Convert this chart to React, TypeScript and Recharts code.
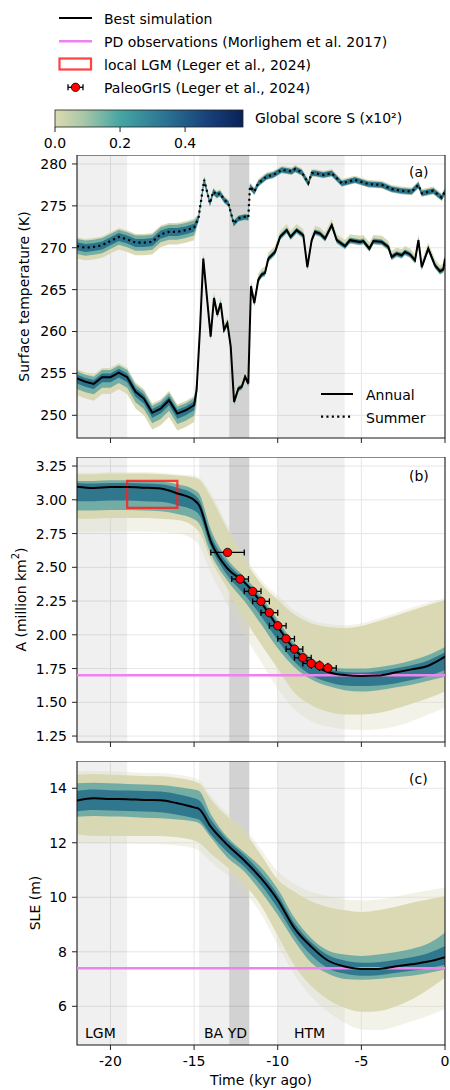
import React from 'react';
import {
  ComposedChart, Line, Area, XAxis, YAxis, CartesianGrid,
  ReferenceArea, ReferenceLine, Scatter,
} from 'recharts';

const FONT = '"DejaVu Sans", Verdana, sans-serif';

// ---------- shared axis / periods ----------
const X_DOMAIN: [number, number] = [-22, 0];
const X_TICKS = [-20, -15, -10, -5, 0];

const PERIOD_NAMES = ['LGM', 'BA', 'YD', 'HTM'];
const PERIOD_START = [-22, -14.7, -12.9, -10];
const PERIOD_END = [-19, -12.9, -11.7, -6];
const PERIOD_SHADE = [0.06, 0.06, 0.175, 0.06];

// ---------- panel (a) surface temperature ----------
const TEMP_DOMAIN: [number, number] = [247.29, 281.07];
const TEMP_TICKS = [250, 255, 260, 265, 270, 275, 280];

const ANNUAL_T = [-22, -21.5, -21, -20.5, -20, -19.5, -19, -18.5, -18, -17.5, -17, -16.5, -16, -15.5, -15, -14.85,
  -14.64, -14.45, -14.01, -13.81, -13.61, -13.41, -13.21, -13.01, -12.81, -12.61, -12.35, -12.15, -11.95, -11.76,
  -11.6, -11.4, -11.16, -10.96, -10.76, -10.56, -10.16, -9.86, -9.46, -9.23, -8.87, -8.47, -8.23, -7.97, -7.77,
  -7.47, -7.17, -6.77, -6.47, -5.98, -5.68, -5.08, -4.88, -4.52, -4.28, -3.78, -3.39, -3.19, -2.89, -2.59, -2.39,
  -2.09, -1.79, -1.59, -1.39, -1.0, -0.6, -0.3, -0.1, 0];
const ANNUAL_K = [254.4, 254.0, 253.75, 254.55, 254.55, 255.1, 254.55, 252.8, 252.0, 250.3, 250.8, 251.8, 250.2, 250.6, 251.2, 253.0,
  260.6, 268.7, 259.4, 264.0, 262.0, 263.4, 260.2, 261.0, 258.2, 251.6, 253.2, 253.4, 254.6, 253.8,
  265.4, 263.4, 266.2, 266.8, 267.0, 268.7, 269.5, 271.3, 272.1, 271.3, 272.1, 271.5, 267.7, 270.9, 271.9,
  271.7, 271.1, 272.7, 270.9, 270.2, 270.9, 270.7, 270.8, 269.9, 270.8, 270.7, 270.1, 268.9, 269.3, 269.1, 269.5,
  269.2, 268.5, 270.9, 267.7, 269.9, 267.9, 267.2, 267.4, 268.7];

const SUMMER_T = [-22, -21.5, -21, -20.5, -20, -19.5, -19, -18.5, -18, -17.5, -17, -16.5, -16, -15.5, -15, -14.74,
  -14.4, -14.05, -13.85, -13.65, -13.45, -13.19, -12.95, -12.63, -12.35, -11.95, -11.76, -11.66, -11.4, -11.16,
  -10.66, -10.26, -9.76, -9.16, -8.96, -8.56, -8.17, -7.97, -7.77, -7.27, -6.77, -6.17, -5.38, -4.58, -3.78,
  -3.19, -2.59, -1.99, -1.59, -1.39, -0.7, -0.2, 0];
const SUMMER_K = [270.2, 270.0, 270.1, 270.3, 270.8, 271.3, 271.0, 270.6, 270.6, 270.7, 271.6, 271.9, 271.9, 272.1, 272.4, 273.5,
  278.1, 275.3, 276.7, 276.3, 276.5, 275.7, 275.3, 272.9, 273.5, 273.7, 273.6, 277.3, 276.7, 277.7,
  278.5, 278.7, 279.3, 279.1, 279.4, 279.0, 277.7, 278.9, 278.9, 278.7, 278.9, 277.7, 278.1, 277.6, 277.5,
  277.0, 276.8, 276.7, 277.5, 276.5, 276.8, 276.0, 276.7];

// ensemble spread around best run: [tanDown, tealDown, coreDown, coreUp, tealUp, tanUp]
const TRANSITION_T = -14.8;
const ANNUAL_SPREAD_GLACIAL = [2.0, 1.25, 0.6, 0.45, 0.85, 1.1];
const ANNUAL_SPREAD_INTER = [0.42, 0.36, 0.26, 0.22, 0.32, 0.72];
const SUMMER_SPREAD_GLACIAL = [1.5, 0.95, 0.5, 0.45, 0.85, 1.05];
const SUMMER_SPREAD_INTER = [0.42, 0.38, 0.3, 0.28, 0.34, 0.5];

// ---------- panels (b) and (c) ----------
const TIME_BC = [-22, -21, -20, -19, -18, -17, -16, -15, -14.7, -14, -13, -12, -11, -10, -9, -8, -7, -6, -5, -4, -3, -2, -1, 0];

const AREA_DOMAIN: [number, number] = [1.206, 3.317];
const AREA_TICKS = [1.25, 1.5, 1.75, 2.0, 2.25, 2.5, 2.75, 3.0, 3.25];
const AREA_BEST = [3.097, 3.088, 3.095, 3.095, 3.09, 3.083, 3.047, 2.998, 2.96, 2.69, 2.49, 2.39, 2.24, 2.06, 1.89, 1.785, 1.725, 1.702, 1.695, 1.698, 1.72, 1.744, 1.771, 1.838];
const AREA_FAINT_HI = [3.2, 3.2, 3.205, 3.205, 3.205, 3.2, 3.19, 3.18, 3.165, 3.05, 2.81, 2.59, 2.41, 2.29, 2.18, 2.11, 2.08, 2.07, 2.085, 2.12, 2.16, 2.2, 2.24, 2.27];
const AREA_TAN_HI = [3.19, 3.19, 3.195, 3.195, 3.195, 3.19, 3.18, 3.165, 3.15, 3.02, 2.78, 2.56, 2.38, 2.26, 2.15, 2.085, 2.058, 2.05, 2.065, 2.1, 2.14, 2.18, 2.22, 2.257];
const AREA_TAN_LO = [2.86, 2.86, 2.865, 2.865, 2.865, 2.86, 2.85, 2.8, 2.76, 2.56, 2.34, 2.12, 1.93, 1.75, 1.57, 1.48, 1.43, 1.41, 1.41, 1.42, 1.45, 1.49, 1.53, 1.58];
const AREA_FAINT_LO = [2.76, 2.76, 2.765, 2.765, 2.765, 2.76, 2.75, 2.7, 2.66, 2.46, 2.22, 2.0, 1.8, 1.6, 1.45, 1.36, 1.32, 1.3, 1.295, 1.3, 1.32, 1.36, 1.41, 1.46];
const AREA_TEAL_HI = [3.14, 3.14, 3.145, 3.145, 3.14, 3.135, 3.115, 3.075, 3.045, 2.78, 2.56, 2.43, 2.29, 2.11, 1.94, 1.83, 1.77, 1.75, 1.75, 1.76, 1.78, 1.81, 1.85, 1.91];
const AREA_TEAL_LO = [2.92, 2.92, 2.925, 2.925, 2.92, 2.915, 2.895, 2.855, 2.825, 2.6, 2.4, 2.25, 2.08, 1.9, 1.76, 1.67, 1.62, 1.59, 1.58, 1.59, 1.61, 1.63, 1.66, 1.69];
const AREA_CORE_HI = [3.125, 3.12, 3.125, 3.125, 3.12, 3.115, 3.09, 3.04, 3.0, 2.74, 2.53, 2.41, 2.265, 2.085, 1.915, 1.805, 1.745, 1.725, 1.72, 1.73, 1.75, 1.775, 1.81, 1.87];
const AREA_CORE_LO = [2.99, 2.99, 2.995, 2.995, 2.99, 2.985, 2.96, 2.92, 2.89, 2.65, 2.44, 2.3, 2.14, 1.96, 1.8, 1.7, 1.65, 1.625, 1.62, 1.625, 1.64, 1.665, 1.695, 1.74];
const PD_AREA = 1.70;

const LGM_BOX_T = [-19, -16];
const LGM_BOX_A = [2.94, 3.14];

const PALEO_T = [-13.0, -12.25, -11.5, -11.0, -10.5, -10.0, -9.5, -9.0, -8.5, -8.0, -7.5, -7.0];
const PALEO_A = [2.61, 2.413, 2.322, 2.248, 2.164, 2.067, 1.971, 1.894, 1.83, 1.788, 1.771, 1.754];
const PALEO_ERR = [1.0, 0.5, 0.5, 0.5, 0.5, 0.5, 0.5, 0.5, 0.5, 0.5, 0.5, 0.5];

const SLE_DOMAIN: [number, number] = [4.58, 15.0];
const SLE_TICKS = [6, 8, 10, 12, 14];
const SLE_BEST = [13.55, 13.63, 13.61, 13.6, 13.57, 13.56, 13.45, 13.3, 13.24, 12.59, 11.92, 11.35, 10.7, 9.9, 8.86, 8.19, 7.68, 7.46, 7.37, 7.37, 7.46, 7.54, 7.64, 7.8];
const SLE_FAINT_HI = [14.62, 14.63, 14.62, 14.6, 14.57, 14.56, 14.5, 14.38, 14.3, 13.72, 13.08, 12.55, 11.75, 10.95, 10.5, 10.2, 10.05, 9.92, 9.88, 9.92, 10.02, 10.15, 10.25, 10.35];
const SLE_TAN_HI = [14.5, 14.52, 14.5, 14.48, 14.45, 14.44, 14.38, 14.26, 14.18, 13.6, 12.95, 12.4, 11.55, 10.65, 10.2, 9.85, 9.64, 9.52, 9.46, 9.52, 9.64, 9.8, 9.92, 10.05];
const SLE_TAN_LO = [12.3, 12.25, 12.25, 12.25, 12.25, 12.25, 12.2, 12.08, 12.0, 11.6, 11.1, 10.5, 9.7, 8.6, 7.5, 6.75, 6.25, 5.95, 5.8, 5.82, 5.98, 6.25, 6.62, 7.05];
const SLE_FAINT_LO = [12.0, 11.98, 11.98, 11.97, 11.96, 11.95, 11.9, 11.8, 11.72, 11.3, 10.8, 10.2, 9.4, 8.25, 7.15, 6.35, 5.8, 5.4, 5.15, 5.12, 5.25, 5.45, 5.65, 5.9];
const SLE_TEAL_HI = [14.18, 14.2, 14.18, 14.16, 14.14, 14.12, 14.05, 13.95, 13.9, 13.05, 12.2, 11.65, 11.1, 10.3, 9.25, 8.5, 8.05, 7.9, 7.85, 7.9, 7.98, 8.1, 8.3, 8.7];
const SLE_TEAL_LO = [12.95, 12.98, 12.96, 12.95, 12.92, 12.9, 12.85, 12.78, 12.72, 12.2, 11.45, 10.95, 10.2, 9.35, 8.4, 7.6, 7.2, 7.0, 6.97, 7.0, 7.07, 7.12, 7.22, 7.35];
const SLE_CORE_HI = [13.9, 13.95, 13.93, 13.92, 13.9, 13.88, 13.78, 13.63, 13.56, 12.85, 12.1, 11.55, 10.9, 10.1, 9.05, 8.35, 7.88, 7.68, 7.6, 7.62, 7.7, 7.8, 7.95, 8.2];
const SLE_CORE_LO = [13.15, 13.2, 13.18, 13.17, 13.15, 13.12, 13.03, 12.9, 12.84, 12.3, 11.65, 11.12, 10.45, 9.6, 8.62, 7.88, 7.4, 7.2, 7.12, 7.14, 7.22, 7.3, 7.4, 7.52];
const PD_SLE = 7.4;

const CBAR_TICKS = [0.0, 0.2, 0.4];
const CBAR_MAX = 0.578;

// ---------- colours ----------
const C_FAINT = '#dddbbd';
const C_TAN = '#d8d7b1';
const C_TEAL = '#2f8f99';
const C_CORE = '#1f6a88';
const C_PD = 'violet';
const C_FRAME = '#222';

// ---------- data building ----------
function buildTemp(ts: number[], vs: number[], glacial: number[], inter: number[]) {
  return ts.map((t, i) => {
    const v = vs[i];
    const s = t < TRANSITION_T ? glacial : inter;
    return { t, v, tan: [v - s[0], v + s[5]], teal: [v - s[1], v + s[4]], core: [v - s[2], v + s[3]] };
  });
}
const annualData = buildTemp(ANNUAL_T, ANNUAL_K, ANNUAL_SPREAD_GLACIAL, ANNUAL_SPREAD_INTER);
const summerData = buildTemp(SUMMER_T, SUMMER_K, SUMMER_SPREAD_GLACIAL, SUMMER_SPREAD_INTER);

const areaData = TIME_BC.map((t, i) => ({
  t, v: AREA_BEST[i],
  faint: [AREA_FAINT_LO[i], AREA_FAINT_HI[i]],
  tan: [AREA_TAN_LO[i], AREA_TAN_HI[i]],
  teal: [AREA_TEAL_LO[i], AREA_TEAL_HI[i]],
  core: [AREA_CORE_LO[i], AREA_CORE_HI[i]],
}));
const sleData = TIME_BC.map((t, i) => ({
  t, v: SLE_BEST[i],
  faint: [SLE_FAINT_LO[i], SLE_FAINT_HI[i]],
  tan: [SLE_TAN_LO[i], SLE_TAN_HI[i]],
  teal: [SLE_TEAL_LO[i], SLE_TEAL_HI[i]],
  core: [SLE_CORE_LO[i], SLE_CORE_HI[i]],
}));
const paleoData = PALEO_T.map((t, i) => ({ t, v: PALEO_A[i] }));
const paleoErrData = PALEO_T.map((t, i) => [
  { t: t - PALEO_ERR[i], v: PALEO_A[i] },
  { t: t + PALEO_ERR[i], v: PALEO_A[i] },
]);

// ---------- helpers ----------
const tickStyle = { fill: '#000', fontSize: 14, fontFamily: FONT };
const MARGIN = { top: 0, right: 5, bottom: 0, left: 0 };

function periods() {
  return PERIOD_NAMES.map((n, i) => (
    <ReferenceArea key={'p' + n} x1={PERIOD_START[i]} x2={PERIOD_END[i]}
      fill="#000" fillOpacity={PERIOD_SHADE[i]} stroke="none" ifOverflow="hidden" />
  ));
}
function frame(dom: [number, number]) {
  return <ReferenceArea key="frame" x1={X_DOMAIN[0]} x2={X_DOMAIN[1]} y1={dom[0]} y2={dom[1]}
    fill="none" stroke={C_FRAME} strokeWidth={1.1} ifOverflow="visible" />;
}
function band(key: string, fill: string, op: number, type: 'linear' | 'monotone', data?: any[], tag = '') {
  return <Area key={key + tag} data={data} dataKey={key} type={type} stroke="none"
    fill={fill} fillOpacity={op} dot={false} activeDot={false} isAnimationActive={false} />;
}
function xAxis(showLabels: boolean, height: number) {
  return <XAxis dataKey="t" type="number" domain={X_DOMAIN} ticks={X_TICKS} allowDataOverflow interval={0}
    axisLine={false} tickLine={{ stroke: C_FRAME }} tickSize={5} tickMargin={6.5} height={height}
    tick={tickStyle} tickFormatter={(v: number) => (showLabels ? String(v) : '')} />;
}
function yAxis(dom: [number, number], ticks: number[], fmt: (v: number) => string) {
  return <YAxis type="number" domain={dom} ticks={ticks} allowDataOverflow interval={0} width={77}
    axisLine={false} tickLine={{ stroke: C_FRAME }} tickSize={5} tickMargin={5}
    tick={tickStyle} tickFormatter={fmt} />;
}

const RedDot = (props: any) => {
  const { cx, cy } = props;
  if (cx == null || cy == null) return null;
  return <circle cx={cx} cy={cy} r={4.2} fill="#ff0000" stroke="#000" strokeWidth={0.8} />;
};
const CapDot = (props: any) => {
  const { cx, cy, index } = props;
  if (cx == null || cy == null) return <g key={'c' + index} />;
  return <line key={'c' + index} x1={cx} x2={cx} y1={cy - 3} y2={cy + 3} stroke="#000" strokeWidth={1.3} />;
};

export default function App() {
  const txt = { fontFamily: FONT, fontSize: 14, fill: '#000' } as const;
  return (
    <div style={{ position: 'absolute', left: 0, top: 0, width: 450, height: 1090, background: '#fff', fontFamily: FONT }}>
      {/* panel (a) */}
      <div style={{ position: 'absolute', left: 0, top: 155 }}>
        <ComposedChart width={450} height={293} margin={MARGIN}>
          <CartesianGrid stroke="#e6e6e6" strokeWidth={1} />
          {periods()}
          {xAxis(false, 10)}
          {yAxis(TEMP_DOMAIN, TEMP_TICKS, (v) => String(v))}
          {band('tan', C_TAN, 0.95, 'linear', annualData, 'a')}
          {band('teal', C_TEAL, 0.6, 'linear', annualData, 'a')}
          {band('core', C_CORE, 0.85, 'linear', annualData, 'a')}
          {band('tan', C_TAN, 0.95, 'linear', summerData, 's')}
          {band('teal', C_TEAL, 0.6, 'linear', summerData, 's')}
          {band('core', C_CORE, 0.85, 'linear', summerData, 's')}
          <Line data={annualData} dataKey="v" type="linear" stroke="#000" strokeWidth={2}
            dot={false} activeDot={false} isAnimationActive={false} />
          <Line data={summerData} dataKey="v" type="linear" stroke="#000" strokeWidth={2.2}
            strokeDasharray="2.1 3.3" dot={false} activeDot={false} isAnimationActive={false} />
          {frame(TEMP_DOMAIN)}
        </ComposedChart>
      </div>

      {/* panel (b) */}
      <div style={{ position: 'absolute', left: 0, top: 457 }}>
        <ComposedChart width={450} height={295} margin={MARGIN} data={areaData}>
          <CartesianGrid stroke="#e6e6e6" strokeWidth={1} />
          {periods()}
          {xAxis(false, 10)}
          {yAxis(AREA_DOMAIN, AREA_TICKS, (v) => v.toFixed(2))}
          {band('faint', C_FAINT, 0.35, 'monotone')}
          {band('tan', C_TAN, 0.95, 'monotone')}
          {band('teal', C_TEAL, 0.6, 'monotone')}
          {band('core', C_CORE, 0.8, 'monotone')}
          <ReferenceLine y={PD_AREA} stroke={C_PD} strokeWidth={2.5} ifOverflow="hidden" />
          <Line dataKey="v" type="monotone" stroke="#000" strokeWidth={2}
            dot={false} activeDot={false} isAnimationActive={false} />
          <ReferenceArea x1={LGM_BOX_T[0]} x2={LGM_BOX_T[1]} y1={LGM_BOX_A[0]} y2={LGM_BOX_A[1]}
            fill="none" stroke="#ff2020" strokeOpacity={0.85} strokeWidth={2.2} ifOverflow="visible" />
          {paleoErrData.map((seg, i) => (
            <Line key={'err' + i} data={seg} dataKey="v" type="linear" stroke="#000" strokeWidth={1.3}
              dot={CapDot} activeDot={false} isAnimationActive={false} />
          ))}
          <Scatter data={paleoData} dataKey="v" shape={RedDot} isAnimationActive={false} />
          {frame(AREA_DOMAIN)}
        </ComposedChart>
      </div>

      {/* panel (c) */}
      <div style={{ position: 'absolute', left: 0, top: 761 }}>
        <ComposedChart width={450} height={329} margin={MARGIN} data={sleData}>
          <CartesianGrid stroke="#e6e6e6" strokeWidth={1} />
          {periods()}
          {xAxis(true, 45)}
          {yAxis(SLE_DOMAIN, SLE_TICKS, (v) => String(v))}
          {band('faint', C_FAINT, 0.35, 'monotone')}
          {band('tan', C_TAN, 0.95, 'monotone')}
          {band('teal', C_TEAL, 0.6, 'monotone')}
          {band('core', C_CORE, 0.8, 'monotone')}
          <ReferenceLine y={PD_SLE} stroke={C_PD} strokeWidth={2.5} ifOverflow="hidden" />
          <Line dataKey="v" type="monotone" stroke="#000" strokeWidth={2}
            dot={false} activeDot={false} isAnimationActive={false} />
          {frame(SLE_DOMAIN)}
        </ComposedChart>
      </div>

      {/* legends, labels, colorbar */}
      <svg width={450} height={1090} style={{ position: 'absolute', left: 0, top: 0, pointerEvents: 'none' }}>
        <defs>
          <linearGradient id="cbar" x1="0" x2="1" y1="0" y2="0">
            <stop offset="0" stopColor="#dcdab0" />
            <stop offset="0.15" stopColor="#a9c7a8" />
            <stop offset="0.35" stopColor="#44a5a2" />
            <stop offset="0.6" stopColor="#2a7092" />
            <stop offset="0.82" stopColor="#173f78" />
            <stop offset="1" stopColor="#0a2258" />
          </linearGradient>
        </defs>
        {/* top legend */}
        <line x1={59} x2={92} y1={18} y2={18} stroke="#000" strokeWidth={2} />
        <text x={104} y={24} {...txt}>Best simulation</text>
        <line x1={59} x2={92} y1={41.3} y2={41.3} stroke={C_PD} strokeWidth={2.5} />
        <text x={104} y={47} {...txt}>PD observations (Morlighem et al. 2017)</text>
        <rect x={59.5} y={58.5} width={31.5} height={11} fill="none" stroke="#ff2020" strokeOpacity={0.85} strokeWidth={2.2} />
        <text x={104} y={70} {...txt}>local LGM (Leger et al., 2024)</text>
        <line x1={68} x2={83} y1={87.3} y2={87.3} stroke="#000" strokeWidth={1.3} />
        <line x1={68} x2={68} y1={84.3} y2={90.3} stroke="#000" strokeWidth={1.3} />
        <line x1={83} x2={83} y1={84.3} y2={90.3} stroke="#000" strokeWidth={1.3} />
        <circle cx={75.5} cy={87.3} r={4.2} fill="#ff0000" stroke="#000" strokeWidth={0.8} />
        <text x={104} y={93} {...txt}>PaleoGrIS (Leger et al., 2024)</text>
        {/* colorbar */}
        <rect x={55} y={110} width={188} height={17} fill="url(#cbar)" stroke="#222" strokeWidth={0.8} />
        {CBAR_TICKS.map((v) => {
          const x = 55 + (v / CBAR_MAX) * 188;
          return (
            <g key={'cb' + v}>
              <line x1={x} x2={x} y1={127} y2={132} stroke="#222" strokeWidth={1} />
              <text x={x} y={147.5} textAnchor="middle" {...txt}>{v.toFixed(1)}</text>
            </g>
          );
        })}
        <text x={255} y={123} {...txt}>Global score S (x10²)</text>

        {/* y labels */}
        <text x={24} y={296.5} transform="rotate(-90 24 296.5)" textAnchor="middle" dominantBaseline="central" {...txt}>Surface temperature (K)</text>
        <text x={20.5} y={599.5} transform="rotate(-90 20.5 599.5)" textAnchor="middle" dominantBaseline="central" {...txt}>
          A (million km<tspan dy={-6} fontSize={10}>2</tspan><tspan dy={6}>)</tspan>
        </text>
        <text x={34.5} y={903} transform="rotate(-90 34.5 903)" textAnchor="middle" dominantBaseline="central" {...txt}>SLE (m)</text>
        <text x={261} y={1085} textAnchor="middle" {...txt}>Time (kyr ago)</text>

        {/* panel tags */}
        <text x={409} y={177} {...txt}>(a)</text>
        <text x={409} y={480.5} {...txt}>(b)</text>
        <text x={409} y={783.5} {...txt}>(c)</text>

        {/* period names */}
        <text x={85} y={1038} {...txt}>LGM</text>
        <text x={204} y={1038} {...txt}>BA YD</text>
        <text x={294} y={1038} {...txt}>HTM</text>

        {/* annual / summer legend */}
        <line x1={321} x2={353} y1={394} y2={394} stroke="#000" strokeWidth={2} />
        <text x={366} y={400} {...txt}>Annual</text>
        <line x1={321} x2={353} y1={416.7} y2={416.7} stroke="#000" strokeWidth={2.2} strokeDasharray="2.1 3.3" />
        <text x={366} y={423} {...txt}>Summer</text>
      </svg>
    </div>
  );
}
